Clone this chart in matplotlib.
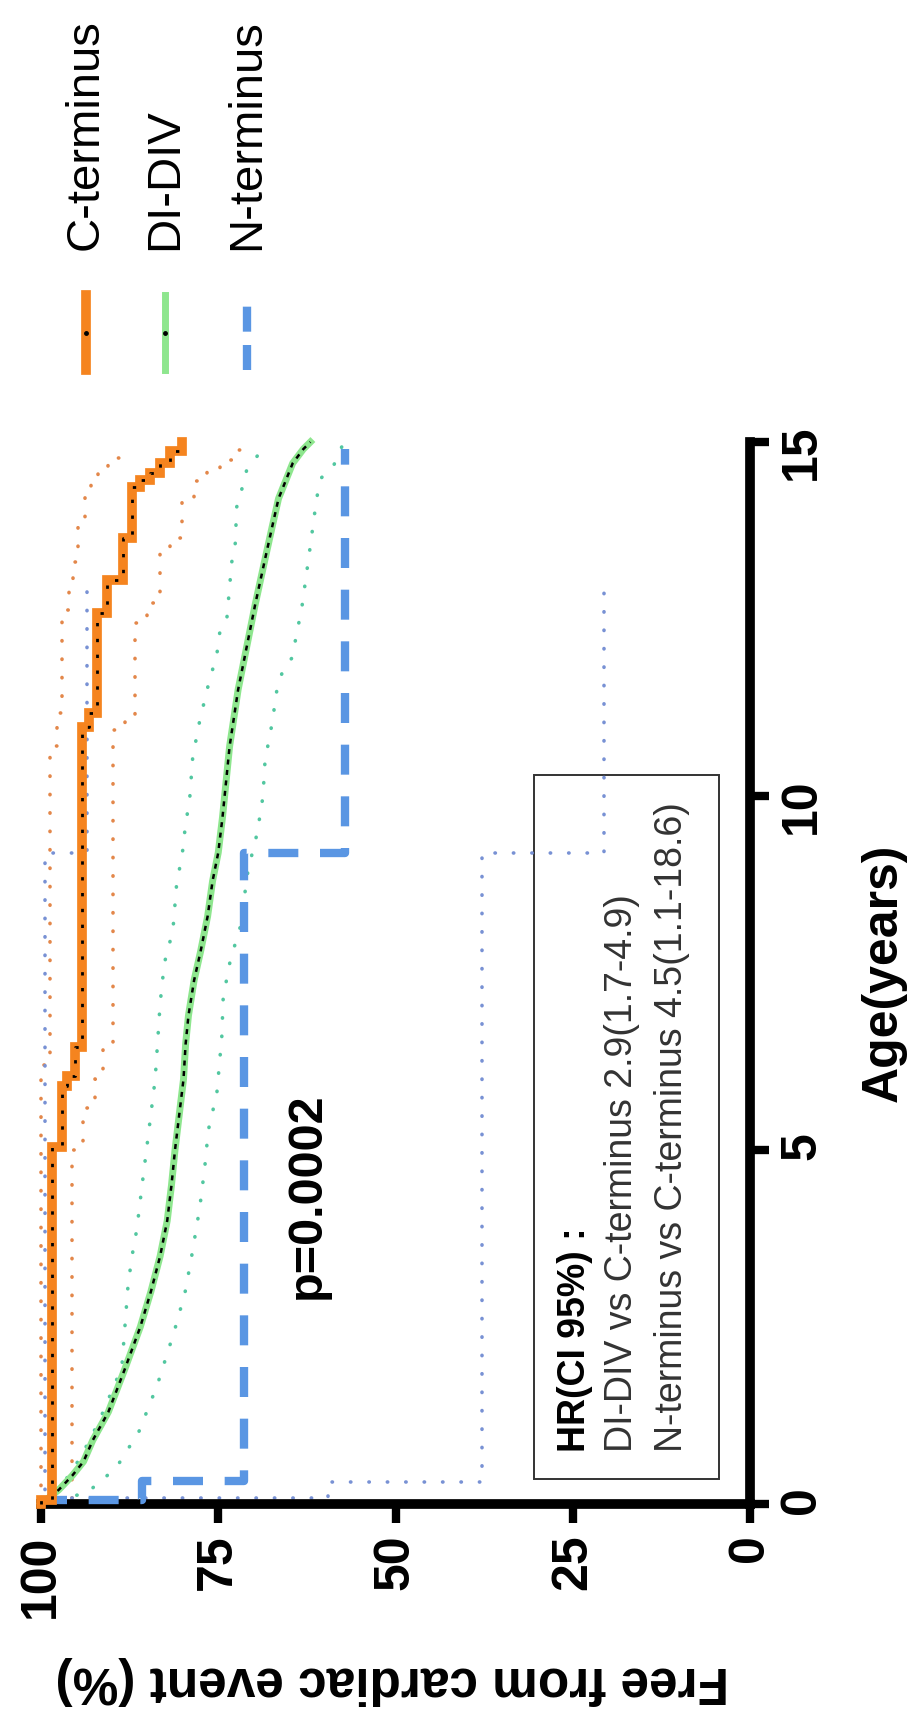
import matplotlib
matplotlib.use("Agg")
import matplotlib.pyplot as plt
from matplotlib.patches import Rectangle

plt.rcParams['font.family'] = ['Liberation Sans', 'DejaVu Sans']

# Kaplan-Meier steps: age where the value changes, value from there on (%)
c_age = [0, 0.05, 5.04, 5.9, 6.05, 6.45, 10.97, 11.17, 12.58, 13.05, 13.65,
         14.36, 14.46, 14.56, 14.7, 14.87]
c_surv = [100, 98.4, 97.0, 96.4, 95.2, 94.2, 93.2, 92.1, 90.7, 88.4, 87.2,
          86.0, 84.6, 83.2, 81.8, 80.1]
c_end = 15.0

c_hi_age = [0, 6.2, 10.7, 11.17, 12.63, 12.9, 13.3, 13.8, 14.3, 14.5, 14.65, 14.77]
c_hi = [100, 98.8, 97.7, 97.0, 96.0, 95.5, 94.8, 93.8, 93.0, 92.0, 90.5, 88.6]
c_lo_age = [0, 0.05, 5.0, 5.6, 6.0, 6.45, 10.93, 11.1, 12.45, 12.73, 13.45, 13.65,
            14.2, 14.45, 14.6, 14.75, 14.88]
c_lo = [100, 95.6, 94.1, 92.4, 91.2, 89.8, 88.1, 86.7, 85.0, 83.2, 81.8, 80.1,
        78.4, 76.6, 74.8, 72.9, 71.2]
c_ci_end = 14.95

# DI-DIV has many small steps, read as a dense trace
d_age = [0, 0.2, 0.4, 0.6, 0.9, 1.3, 1.9, 2.5, 3.0, 3.5, 4.0, 4.5, 5.0, 5.5, 6.0,
         6.5, 6.9, 7.4, 7.8, 8.3, 8.8, 9.2, 9.7, 10.2, 10.7, 11.1, 11.5, 12.1,
         12.7, 13.3, 13.8, 14.2, 14.5, 14.7, 14.9, 15.0]
d_surv = [100, 97.5, 95.6, 94.0, 92.7, 90.5, 88.2, 86.0, 84.5, 83.2, 82.2, 81.6,
          81.1, 80.5, 79.9, 79.6, 79.2, 78.4, 77.5, 76.5, 75.8, 75.0, 74.4, 73.9,
          73.4, 72.8, 72.2, 71.0, 69.8, 68.5, 67.4, 66.5, 65.3, 64.5, 63.0, 62.0]

d_hi_age = [0, 0.3, 0.66, 1.17, 1.93, 3.12, 3.6, 3.87, 4.62, 5.18, 6.0, 6.6, 7.07,
            7.64, 8.1, 8.72, 9.24, 9.52, 10.0, 10.55, 11.07, 11.57, 12.0, 12.3,
            12.49, 13.3, 13.57, 14.08, 14.36, 14.6, 14.95]
d_hi = [100, 96.8, 94.4, 91.8, 88.6, 87.7, 87.0, 86.5, 85.6, 84.9, 83.9, 83.5, 83.2,
        82.6, 81.4, 80.9, 80.0, 79.7, 79.0, 78.6, 77.6, 76.4, 75.2, 74.8, 73.8,
        73.1, 72.6, 72.4, 71.6, 71.0, 68.4]
d_lo_age = [0, 0.16, 0.51, 1.02, 1.68, 2.44, 2.98, 3.47, 4.19, 4.76, 5.28, 5.8,
            6.6, 7.16, 7.68, 8.15, 8.95, 9.48, 9.99, 10.5, 11.03, 11.52, 11.8,
            11.95, 12.67, 13.47, 14.22, 14.5, 14.65, 14.95]
d_lo = [100, 93.5, 89.4, 86.2, 83.6, 81.2, 79.7, 78.8, 77.6, 76.9, 76.4, 75.2,
        74.5, 74.3, 73.3, 71.9, 70.8, 69.5, 68.7, 68.4, 67.4, 66.7, 65.8, 64.6,
        63.2, 62.1, 61.1, 60.4, 58.8, 57.5]

n_age = [0, 0.05, 0.33, 9.2]
n_surv = [100, 85.7, 71.4, 57.1]
n_end = 14.9
n_hi_age = [0, 0.05, 9.2]
n_hi = [100, 99.5, 93.5]
n_lo_age = [0, 0.08, 0.31, 9.2]
n_lo = [100, 59.5, 37.8, 20.6]
n_ci_end = 13.05

labels = ["C-terminus", "DI-DIV", "N-terminus"]
hr_lines = ["DI-DIV vs C-terminus 2.9(1.7-4.9)",
            "N-terminus vs C-terminus 4.5(1.1-18.6)"]

ORANGE, GREEN, BLUE = "#f5841f", "#8ee68e", "#5a96e3"
ORANGE_CI, GREEN_CI, BLUE_CI = "#e3874a", "#52c7a0", "#7891d4"
DOT = (0, (0.1, 5))


def km_path(ages, surv, end):
    # vertical pieces (age runs upward), horizontal jumps at each event
    xs, ys = [], []
    for i, (a, s) in enumerate(zip(ages, surv)):
        nxt = ages[i + 1] if i + 1 < len(ages) else end
        xs += [s, s]
        ys += [a, nxt]
    return xs, ys


fig = plt.figure(figsize=(9.1, 17.17), dpi=100)

# pixel overlay for labels, legend and the HR box
ov = fig.add_axes([0, 0, 1, 1])
ov.set_xlim(0, 910)
ov.set_ylim(1717, 0)
ov.axis("off")

ax = fig.add_axes([41 / 910, 213 / 1717, 709 / 910, 1062 / 1717])
ax.patch.set_alpha(0)

# confidence bands (dotted)
for ages, vals, end, col in [(c_hi_age, c_hi, c_ci_end, ORANGE_CI),
                             (c_lo_age, c_lo, c_ci_end, ORANGE_CI),
                             (n_hi_age, n_hi, n_ci_end, BLUE_CI),
                             (n_lo_age, n_lo, n_ci_end, BLUE_CI)]:
    x, y = km_path(ages, vals, end)
    ax.plot(x, y, color=col, lw=2.6, linestyle=DOT, dash_capstyle="round",
            clip_on=False, zorder=2)
for ages, vals in [(d_hi_age, d_hi), (d_lo_age, d_lo)]:
    ax.plot(vals, ages, color=GREEN_CI, lw=2.6, linestyle=DOT,
            dash_capstyle="round", clip_on=False, zorder=2)

# N-terminus
x, y = km_path(n_age, n_surv, n_end)
ax.plot(x, y, color=BLUE, lw=6, linestyle=(0, (3.6, 2.6)), clip_on=False, zorder=3)

# DI-DIV
ax.plot(d_surv, d_age, color=GREEN, lw=5, clip_on=False, zorder=4)
ax.plot(d_surv, d_age, color="black", lw=1.8, linestyle=(0, (2.0, 2.2)),
        clip_on=False, zorder=5)

# C-terminus
x, y = km_path(c_age, c_surv, c_end)
ax.plot(x, y, color=ORANGE, lw=7, clip_on=False, zorder=6, solid_joinstyle="miter")
ax.plot(x, y, color="black", lw=2, linestyle=(0, (1.2, 4.5)), clip_on=False, zorder=7)

ax.set_xlim(100, 0)
ax.set_ylim(0, 15)
ax.set_xticks([0, 25, 50, 75, 100])
ax.set_yticks([0, 5, 10, 15])
for side in ["left", "top"]:
    ax.spines[side].set_visible(False)
for side in ["bottom", "right"]:
    ax.spines[side].set_linewidth(7)
    ax.spines[side].set_capstyle("projecting")
ax.yaxis.tick_right()
ax.tick_params(axis="both", width=6, length=14, direction="out", labelsize=36)
ax.tick_params(axis="x", labelrotation=90, pad=8)
ax.tick_params(axis="y", labelrotation=90, pad=7)
for lab in ax.get_xticklabels() + ax.get_yticklabels():
    lab.set_fontweight("bold")

ov.text(392, 1680, "Free from cardiac event (%)", rotation=180, ha="center",
        va="center", fontsize=37, fontweight="bold")
ov.text(884, 973, "Age(years)", rotation=90, ha="center", va="center",
        fontsize=36, fontweight="bold")
ov.text(307, 1196, "p=0.0002", rotation=90, ha="center", va="center",
        fontsize=35, fontweight="bold")

# HR box
ov.add_patch(Rectangle((534, 775), 185, 704, fill=False, ec="#333333", lw=1.4))
ov.text(575, 1452, "HR(CI 95%) :", rotation=90, ha="center", va="bottom",
        fontsize=27, fontweight="bold")
for xc, line in zip([622, 672], hr_lines):
    ov.text(xc, 1452, line, rotation=90, ha="center", va="bottom",
            fontsize=27, color="#333333")

# legend
for xc, lab, col in zip([86, 165, 247], labels, [ORANGE, GREEN, BLUE]):
    if lab == "N-terminus":
        ov.plot([xc, xc], [370, 295], color=col, lw=6, linestyle=(0, (3.0, 1.6)))
    else:
        ov.plot([xc, xc], [370, 295], color=col, lw=7 if lab == "C-terminus" else 5)
        ov.plot([xc], [333], marker="o", ms=2.5, color="black")
    ov.text(xc, 250, lab, rotation=90, ha="center", va="bottom", fontsize=34)

fig.savefig("out.png", dpi=100)
